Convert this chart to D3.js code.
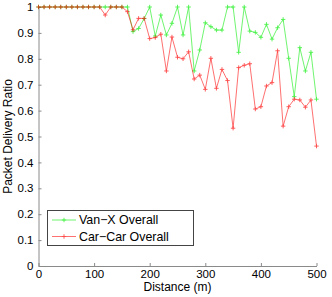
<!DOCTYPE html>
<html>
<head>
<meta charset="utf-8">
<script src="https://cdn.jsdelivr.net/npm/d3@7"></script>
<style>
  body { margin: 0; background: #fff; }
  text { font-family: "Liberation Sans", Arial, sans-serif; fill: #000; }
</style>
</head>
<body>
<svg id="chart" width="332" height="297"></svg>
<script>
// distance (m) for every sample
const distances = [0, 10, 20, 30, 40, 50, 60, 70, 80, 90, 100, 110, 120, 130, 140, 150, 160,
  170, 180, 190, 200, 210, 220, 230, 240, 250, 260, 270, 280, 290, 300, 310, 320, 330, 340,
  350, 360, 370, 380, 390, 400, 410, 420, 430, 440, 450, 460, 470, 480, 490, 500];

const vanX = [1, 1, 1, 1, 1, 1, 1, 1, 1, 1, 1, 1, 1, 1, 1, 1, 1,
  0.905, 0.917, 0.955, 1, 0.888, 0.969, 0.892, 0.937, 1, 0.892, 1, 0.753, 0.834, 0.939, 0.924,
  0.911, 0.911, 1, 1, 0.825, 1, 0.907, 0.902, 0.883, 0.933, 0.876, 0.920, 0.952, 0.802,
  0.654, 0.843, 0.753, 0.825, 0.644];

const carCar = [1, 1, 1, 1, 1, 1, 1, 1, 1, 1, 1, 1, 0.969, 1, 1, 1, 0.982,
  0.912, 0.956, 0.956, 0.878, 0.882, 0.895, 0.753, 0.884, 0.806, 0.800, 0.827, 0.722, 0.737,
  0.682, 0.802, 0.686, 0.759, 0.716, 0.532, 0.766, 0.775, 0.781, 0.606, 0.615, 0.695, 0.708,
  0.831, 0.540, 0.615, 0.644, 0.641, 0.613, 0.641, 0.463];

const xTicks = [0, 100, 200, 300, 400, 500];
const yTicks = [0, 0.1, 0.2, 0.3, 0.4, 0.5, 0.6, 0.7, 0.8, 0.9, 1];
const seriesNames = ['Van\u2212X Overall', 'Car\u2212Car Overall'];
const seriesColors = ['#00ee00', '#ff0000'];

const svg = d3.select('#chart');
const plotLeft = 38.5, plotRight = 316.5, plotTop = 7, plotBottom = 266;

const x = d3.scaleLinear().domain([0, 500]).range([plotLeft, plotRight]);
const y = d3.scaleLinear().domain([0, 1]).range([plotBottom, plotTop]);

// axes
const xAxis = svg.append('g')
  .attr('transform', `translate(0,${plotBottom})`)
  .call(d3.axisBottom(x).tickValues(xTicks).tickFormat(d3.format('d'))
    .tickSizeInner(-3).tickSizeOuter(0).tickPadding(4));

const yAxis = svg.append('g')
  .attr('transform', `translate(${plotLeft},0)`)
  .call(d3.axisLeft(y).tickValues(yTicks).tickFormat(d => d === 0 || d === 1 ? d : d.toFixed(1))
    .tickSizeInner(-3).tickSizeOuter(0).tickPadding(5));

[xAxis, yAxis].forEach(g => {
  g.select('.domain').attr('stroke', '#8a8a8a');
  g.selectAll('.tick line').attr('stroke', '#8a8a8a');
  g.selectAll('.tick text').style('font-size', '11.5px');
});

// lines
const allSeries = [vanX, carCar];
const line = d3.line()
  .x((d, i) => x(distances[i]))
  .y(d => y(d));

const plus = 'M-2.2,0H2.2M0,-2.2V2.2';

allSeries.forEach((vals, s) => {
  const g = svg.append('g').attr('opacity', 0.7);
  g.append('path')
    .datum(vals)
    .attr('fill', 'none')
    .attr('stroke', seriesColors[s])
    .attr('stroke-width', 0.8)
    .attr('d', line);
  g.selectAll('path.mk')
    .data(vals)
    .join('path')
    .attr('class', 'mk')
    .attr('transform', (d, i) => `translate(${x(distances[i])},${y(d)})`)
    .attr('d', plus)
    .attr('stroke', seriesColors[s])
    .attr('stroke-width', 0.9);
});

// axis labels
svg.append('text')
  .attr('x', (plotLeft + plotRight) / 2)
  .attr('y', 291)
  .attr('text-anchor', 'middle')
  .style('font-size', '12px')
  .text('Distance (m)');

svg.append('text')
  .attr('transform', `translate(12,${(plotTop + plotBottom) / 2}) rotate(-90)`)
  .attr('text-anchor', 'middle')
  .style('font-size', '12px')
  .text('Packet Delivery Ratio');

// legend
const legend = svg.append('g');
legend.append('rect')
  .attr('x', 47.5).attr('y', 210.5)
  .attr('width', 146).attr('height', 35)
  .attr('fill', '#fff')
  .attr('stroke', '#444');

seriesNames.forEach((name, s) => {
  const ly = 220 + s * 16.5;
  const item = legend.append('g').attr('opacity', 0.7);
  item.append('line')
    .attr('x1', 52).attr('x2', 76)
    .attr('y1', ly).attr('y2', ly)
    .attr('stroke', seriesColors[s])
    .attr('stroke-width', 0.8);
  item.append('path')
    .attr('transform', `translate(64,${ly})`)
    .attr('d', plus)
    .attr('stroke', seriesColors[s])
    .attr('stroke-width', 0.9);
  legend.append('text')
    .attr('x', 79)
    .attr('y', ly)
    .attr('dy', '0.36em')
    .style('font-size', '12.4px')
    .text(name);
});
</script>
</body>
</html>
